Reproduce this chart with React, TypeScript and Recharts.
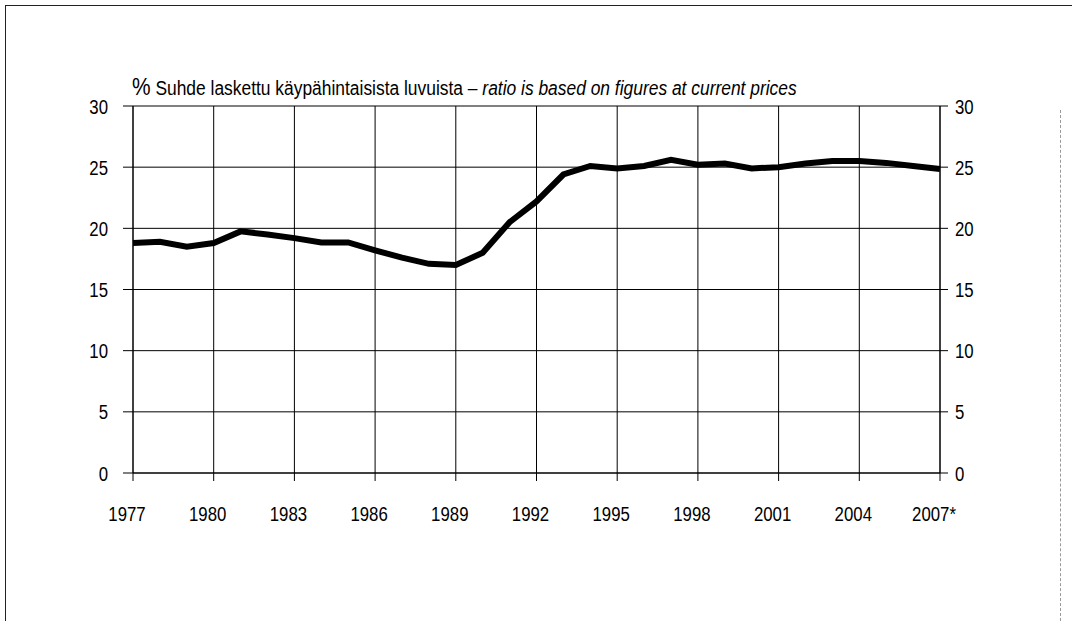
import React from 'react';
import { LineChart, Line, XAxis, YAxis, CartesianGrid } from 'recharts';

const years = [
  1977, 1978, 1979, 1980, 1981, 1982, 1983, 1984, 1985, 1986, 1987, 1988, 1989, 1990, 1991, 1992,
  1993, 1994, 1995, 1996, 1997, 1998, 1999, 2000, 2001, 2002, 2003, 2004, 2005, 2006, 2007,
];
const ratio = [
  18.8, 18.9, 18.5, 18.8, 19.75, 19.5, 19.2, 18.85, 18.85, 18.2, 17.6, 17.1, 17.0, 18.0, 20.5, 22.2,
  24.4, 25.1, 24.9, 25.1, 25.6, 25.2, 25.3, 24.9, 25.0, 25.3, 25.5, 25.5, 25.35, 25.1, 24.85,
];
const xTicks = [1977, 1980, 1983, 1986, 1989, 1992, 1995, 1998, 2001, 2004, 2007];
const yTicks = [0, 5, 10, 15, 20, 25, 30];

const data = years.map((y, i) => ({ year: y, value: ratio[i] }));

const font = '"Liberation Sans", Arial, sans-serif';

// narrow-looking tick text (the original uses a condensed face)
const NarrowTick = (props: any) => {
  const { x, y, payload, textAnchor, fmt, dx = 0, dy = 0 } = props;
  const label = fmt ? fmt(payload.value) : String(payload.value);
  return (
    <g transform={`translate(${x + dx},${y + dy}) scale(0.8,1)`}>
      <text x={0} y={0} dy="0.36em" textAnchor={textAnchor} fill="#000" fontSize={21} fontFamily={font}>
        {label}
      </text>
    </g>
  );
};

export default function App() {
  return (
    <div style={{ position: 'fixed', left: 0, top: 0, width: 1072, height: 621, background: '#fff', overflow: 'hidden' }}>
      {/* page frame */}
      <div style={{ position: 'absolute', left: 5, top: 5, width: 1080, height: 640, borderLeft: '1.5px solid #222', borderTop: '1.5px solid #222' }} />
      <div style={{ position: 'absolute', left: 1060, top: 110, height: 511, borderLeft: '1px dashed #999' }} />

      <div
        style={{
          position: 'absolute',
          left: 132,
          top: 73,
          fontFamily: font,
          fontSize: 20,
          color: '#000',
          whiteSpace: 'nowrap',
          transform: 'scaleX(0.87)',
          transformOrigin: 'left top',
        }}
      >
        <span style={{ fontSize: 24 }}>%</span> Suhde laskettu käypähintaisista luvuista – <i>ratio is based on figures at current prices</i>
      </div>

      <LineChart
        width={1072}
        height={621}
        data={data}
        margin={{ top: 106, right: 82, left: 93, bottom: 88 }}
      >
        <CartesianGrid stroke="#000" strokeWidth={1} />
        <XAxis
          dataKey="year"
          type="number"
          domain={[1977, 2007]}
          ticks={xTicks}
          interval={0}
          tick={<NarrowTick fmt={(v: number) => (v === 2007 ? '2007*' : String(v))} dx={-6} dy={8} />}
          tickSize={8}
          tickMargin={24}
          stroke="#000"
          height={60}
        />
        <YAxis
          domain={[0, 30]}
          ticks={yTicks}
          interval={0}
          tick={<NarrowTick />}
          tickSize={10}
          tickMargin={15}
          stroke="#000"
          width={40}
        />
        <YAxis
          yAxisId="right"
          orientation="right"
          domain={[0, 30]}
          ticks={yTicks}
          interval={0}
          tick={<NarrowTick />}
          tickSize={8}
          tickMargin={7}
          stroke="#000"
          width={50}
        />
        <Line
          type="linear"
          dataKey="value"
          stroke="#000"
          strokeWidth={6}
          dot={false}
          isAnimationActive={false}
        />
        <Line
          yAxisId="right"
          type="linear"
          dataKey="value"
          stroke="none"
          dot={false}
          activeDot={false}
          isAnimationActive={false}
        />
      </LineChart>
    </div>
  );
}
